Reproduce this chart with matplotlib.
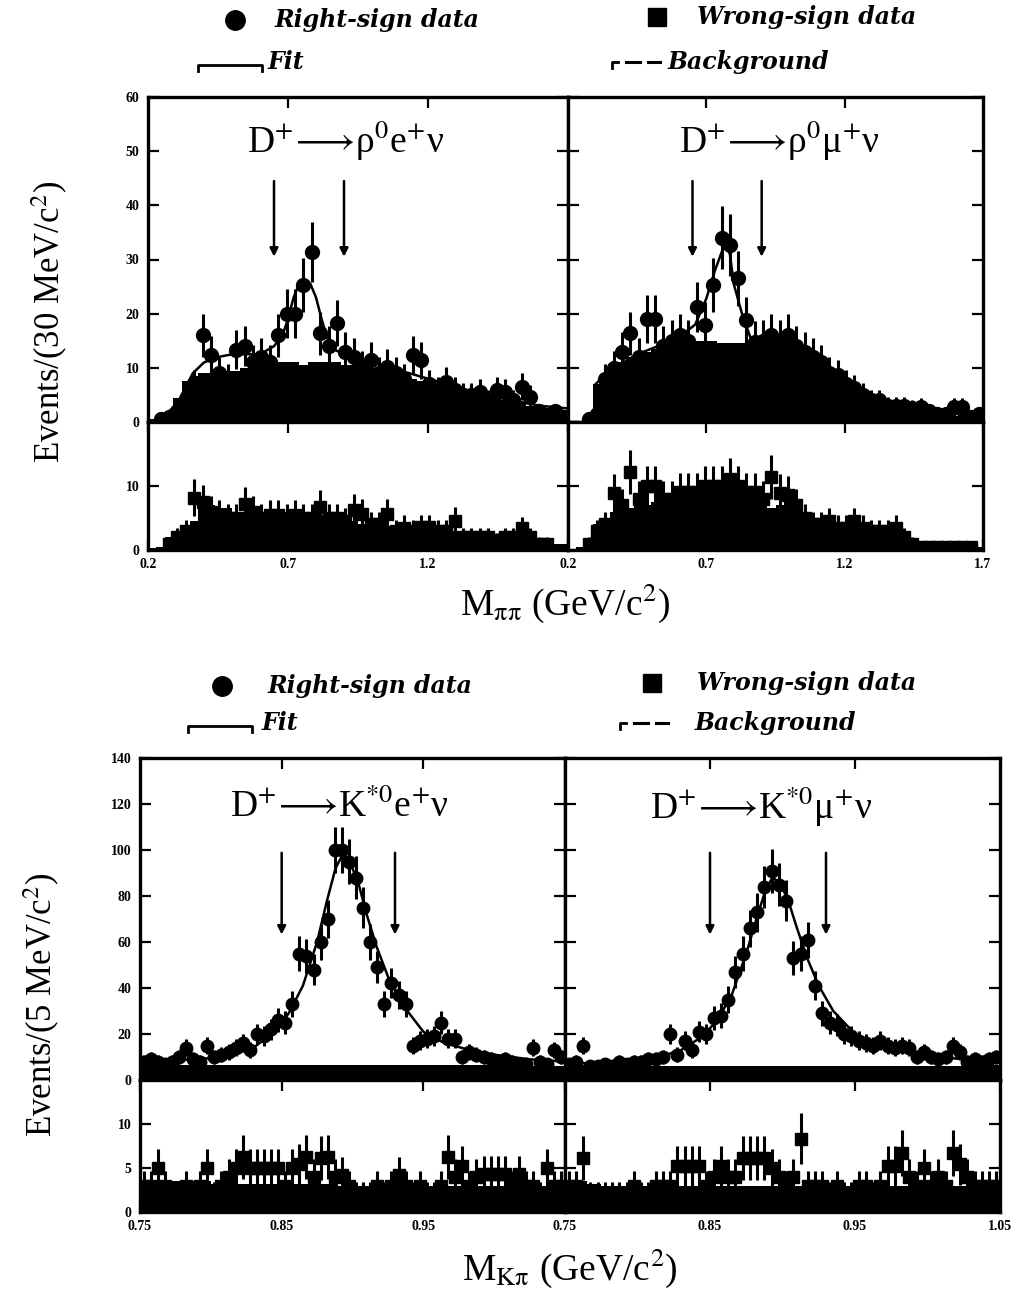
import numpy as np
import matplotlib
matplotlib.use("Agg")
import matplotlib.pyplot as plt
from matplotlib.lines import Line2D

plt.rcParams['font.family'] = ['Liberation Serif', 'DejaVu Serif']
plt.rcParams['mathtext.fontset'] = 'stix'

# ----------------------------------------------------------------- data ---
# rho panels: 30 MeV bins from 0.2 to 1.7 GeV
rho_edges = np.linspace(0.2, 1.7, 51)
rho_x = 0.5 * (rho_edges[:-1] + rho_edges[1:])

rho_e_rs = [0, 0.5, 1, 2, 4, 7, 16, 12.4, 9, 8,
            13.3, 14, 11, 12, 11, 16, 20, 20, 25.3, 31.4,
            16.4, 14, 18.3, 13, 12, 10, 11.4, 9, 10.2, 9,
            8, 12.4, 11.4, 7, 6, 7.4, 6, 5, 5, 5.6,
            4, 5.9, 5.6, 4, 6.5, 4.7, 2, 1, 2, 1]
rho_e_rs_err = [0, 0.7, 1, 1.4, 2, 2.6, 4, 3.5, 3, 2.8,
                3.6, 3.7, 3.3, 3.5, 3.3, 4, 4.5, 4.5, 5, 5.6,
                4, 3.7, 4.3, 3.6, 3.5, 3.2, 3.4, 3, 3.2, 3,
                2.8, 3.5, 3.4, 2.6, 2.4, 2.7, 2.4, 2.2, 2.2, 2.4,
                2, 2.4, 2.4, 2, 2.5, 2.2, 1.4, 1, 1.4, 1]
rho_e_bg = [0.5, 1, 1.5, 4.5, 7.5, 8.5, 9, 9, 9.5, 9.5,
            9.5, 10, 10, 10.5, 11, 11, 11, 11, 10.5, 11,
            11, 11, 11, 10.5, 10.5, 10, 10, 9.5, 9, 9,
            8.5, 8, 7.5, 7, 6.5, 6, 6, 5.5, 5, 5,
            4.5, 4.5, 4, 3.5, 3.5, 3, 2.5, 2.5, 2, 2]
rho_e_fit_x = [0.25, 0.3, 0.33, 0.36, 0.4, 0.45, 0.5, 0.55, 0.6, 0.65,
               0.68, 0.7, 0.72, 0.74, 0.76, 0.78, 0.8, 0.82, 0.84, 0.86,
               0.9, 0.95, 1.0, 1.1, 1.2, 1.3, 1.4, 1.5, 1.6, 1.7]
rho_e_fit_y = [1, 3, 6, 9, 11, 12, 12.5, 12.5, 12.5, 14,
               16, 19, 23, 25.5, 26, 25.5, 23, 19, 15.5, 13.5,
               12.5, 12, 11, 9.5, 8, 6.5, 5, 4, 3, 2.5]
rho_e_ws = [0, 0, 1, 2, 3, 8.2, 7.5, 6, 5.5, 5,
            5, 7.2, 6, 5, 5.5, 5.5, 5, 5.5, 5, 5,
            6.7, 5, 5, 4.5, 6.2, 5.6, 4, 4, 5.6, 3,
            3.5, 3, 3.6, 3.6, 3, 3, 4.6, 2, 2, 2,
            2, 1.5, 2, 2, 3.4, 2, 1, 1, 0, 0]
rho_e_ws_err = [0, 0, 1, 1.4, 1.7, 2.9, 2.7, 2.4, 2.3, 2.2,
                2.2, 2.7, 2.4, 2.2, 2.3, 2.3, 2.2, 2.3, 2.2, 2.2,
                2.6, 2.2, 2.2, 2.1, 2.5, 2.4, 2, 2, 2.4, 1.7,
                1.9, 1.7, 1.9, 1.9, 1.7, 1.7, 2.1, 1.4, 1.4, 1.4,
                1.4, 1.2, 1.4, 1.4, 1.8, 1.4, 1, 1, 0, 0]
rho_e_ws_bg = [0.3, 0.5, 2, 2.5, 3, 4.5, 7.5, 7, 6.5, 6.5,
               6, 6, 6, 6, 6, 6, 6, 6, 6, 5.5,
               5.5, 5, 5, 4.5, 4.5, 4, 4, 4, 3.8, 3.6,
               3.5, 3.5, 3.5, 3.5, 3.5, 3.5, 3, 2.5, 2, 2,
               2, 2, 2, 2.5, 3, 2.5, 1, 1, 1, 1]

rho_mu_rs = [0, 0, 0.5, 1.5, 8, 10, 13, 16.4, 12, 19,
             19, 14, 15, 16, 15, 21.3, 18, 25.3, 34, 32.7,
             26.5, 18.8, 14.8, 15, 16, 15, 16, 14, 13, 12,
             11, 9, 8.6, 7, 6.2, 5, 4, 4, 3, 3,
             3, 2.5, 2.8, 2, 1.5, 1.5, 2.8, 2.8, 1, 1.5]
rho_mu_rs_err = [0, 0, 0.7, 1.2, 2.8, 3.2, 3.6, 4, 3.5, 4.4,
                 4.4, 3.7, 3.9, 4, 3.9, 4.6, 4.2, 5, 5.8, 5.7,
                 5.1, 4.3, 3.8, 3.9, 4, 3.9, 4, 3.7, 3.6, 3.5,
                 3.3, 3, 2.9, 2.6, 2.5, 2.2, 2, 2, 1.7, 1.7,
                 1.7, 1.6, 1.7, 1.4, 1.2, 1.2, 1.7, 1.7, 1, 1.2]
rho_mu_bg = [0, 0, 0.5, 7, 9, 10, 11, 12, 12.5, 13,
             13.5, 14, 14.5, 15, 15, 15, 15, 15, 14.5, 14.5,
             14.5, 14.5, 14.5, 15, 15, 15, 14.5, 14, 13, 12,
             11, 9.5, 8, 7, 5.5, 4.5, 4, 3, 2.5, 2.5,
             2.5, 2, 2, 2, 1.5, 1.5, 1.2, 1.5, 1, 1]
rho_mu_fit_x = [0.3, 0.35, 0.4, 0.45, 0.5, 0.55, 0.6, 0.62, 0.66, 0.7,
                0.73, 0.76, 0.77, 0.785, 0.8, 0.83, 0.86, 0.9, 0.95, 1.0,
                1.05, 1.1, 1.15, 1.2, 1.25, 1.3, 1.4, 1.5, 1.6, 1.7]
rho_mu_fit_y = [7, 9.5, 11, 12.5, 13.5, 14.5, 15.5, 16.4, 18, 22.8,
                27.8, 32, 32.7, 31, 25.3, 19.8, 15.5, 15, 15, 14.8,
                13.5, 11.5, 9.5, 7.5, 5.5, 4, 2.5, 2, 1.5, 1]
rho_mu_ws = [0, 0, 1, 3, 4, 8.9, 7, 12.2, 8, 10,
             10, 8, 8, 9, 9, 9, 10, 10, 10, 11.1,
             10, 9, 9, 8, 11.4, 8.9, 8.6, 7, 5, 4,
             4, 4.5, 3.5, 3.5, 4.5, 3.5, 3, 3, 3, 3.5,
             2, 1, 0.5, 0.5, 0.5, 0.5, 0.5, 0.5, 0.5, 0]
rho_mu_ws_err = [0, 0, 1, 1.7, 2, 3, 2.6, 3.5, 2.8, 3.2,
                 3.2, 2.8, 2.8, 3, 3, 3, 3.2, 3.2, 3.2, 3.3,
                 3.2, 3, 3, 2.8, 3.4, 3, 2.9, 2.6, 2.2, 2,
                 2, 2.1, 1.9, 1.9, 2.1, 1.9, 1.7, 1.7, 1.7, 1.9,
                 1.4, 1, 0.7, 0.7, 0.7, 0.7, 0.7, 0.7, 0.7, 0]
rho_mu_ws_bg = [0, 0.5, 1.5, 4, 5, 6, 6.5, 6.5, 7, 7,
                7.5, 8.5, 8.5, 8.5, 8.5, 8.5, 9, 9.5, 9.5, 9.5,
                9.5, 9.5, 9, 7, 6.5, 7, 7.5, 7, 5.5, 4.5,
                4, 4, 3.5, 3.5, 4, 3.5, 3.5, 3, 3, 2.5,
                2.5, 1.5, 0.8, 0.8, 0.8, 0.8, 0.8, 0.8, 0.8, 0.5]

# K* panels: 5 MeV bins from 0.75 to 1.05 GeV
kst_edges = np.linspace(0.75, 1.05, 61)
kst_x = 0.5 * (kst_edges[:-1] + kst_edges[1:])

kst_e_rs = [8, 9, 8, 7, 8, 10, 14, 9, 8, 15,
            10, 11, 12, 14, 16, 13, 20, 19, 22, 26,
            25, 33, 55, 54, 48, 60, 70, 100, 100, 95,
            88, 75, 60, 49, 33, 42, 37, 33, 15, 17,
            18, 19, 25, 18, 18, 10, 12, 11, 10, 9,
            8, 9, 8, 7, 7, 14, 8, 7, 13, 10]
kst_e_rs_err = [2.8, 3, 2.8, 2.6, 2.8, 3.2, 3.7, 3, 2.8, 3.9,
                3.2, 3.3, 3.5, 3.7, 4, 3.6, 4.5, 4.4, 4.7, 5.1,
                5, 5.7, 7.4, 7.3, 6.9, 7.7, 8.4, 10, 10, 9.7,
                9.4, 8.7, 7.7, 7, 5.7, 6.5, 6.1, 5.7, 3.9, 4.1,
                4.2, 4.4, 5, 4.2, 4.2, 3.2, 3.5, 3.3, 3.2, 3,
                2.8, 3, 2.8, 2.6, 2.6, 3.7, 2.8, 2.6, 3.6, 3.2]
kst_e_bg = [7.5, 7.5, 7, 7, 7, 6.5, 6.5, 6.5, 6.5, 6.5,
            6.5, 6.5, 6.5, 6.5, 6.5, 6.5, 6.5, 6.5, 6.5, 6.5,
            6.5, 6.5, 6.5, 6.5, 6.5, 6.5, 6.5, 6.5, 6.5, 6.5,
            6.5, 6.5, 6.5, 6.5, 6.5, 6.5, 6.5, 6.5, 6.5, 6.5,
            6.5, 6.5, 6.5, 6.5, 6.5, 6.5, 6.5, 6.5, 6.5, 6.5,
            6.5, 6.5, 6.5, 6.5, 6, 6, 6, 6, 6, 6]
kst_fit_x = [0.75, 0.77, 0.79, 0.81, 0.83, 0.845, 0.855, 0.865, 0.875, 0.882,
             0.888, 0.893, 0.898, 0.904, 0.91, 0.917, 0.925, 0.935, 0.95, 0.965,
             0.98, 1.0, 1.025, 1.05]
kst_e_fit_y = [8, 8.5, 9, 10, 14, 21, 29, 41, 60, 78,
               92, 98, 95, 86, 72, 58, 45, 33, 21, 16,
               13.5, 11, 9, 8]
kst_e_ws = [3, 3, 5, 3, 2, 2, 3, 2, 3, 5,
            2, 3, 4, 5, 6.3, 5, 5, 5, 5, 5,
            3, 5, 5.4, 6.3, 4, 6.1, 6.3, 4, 4.2, 3,
            2, 2, 2, 3, 2, 3, 4.2, 3, 2, 3,
            2, 2, 3, 6.3, 4, 5.2, 3, 4, 4.3, 4.3,
            4.3, 4.3, 3, 4.3, 3, 3, 2, 5, 3, 3]
kst_e_ws_err = [1.7, 1.7, 2.2, 1.7, 1.4, 1.4, 1.7, 1.4, 1.7, 2.2,
                1.4, 1.7, 2, 2.2, 2.5, 2.2, 2.2, 2.2, 2.2, 2.2,
                1.7, 2.2, 2.3, 2.5, 2, 2.5, 2.5, 2, 2, 1.7,
                1.4, 1.4, 1.4, 1.7, 1.4, 1.7, 2, 1.7, 1.4, 1.7,
                1.4, 1.4, 1.7, 2.5, 2, 2.3, 1.7, 2, 2.1, 2.1,
                2.1, 2.1, 1.7, 2.1, 1.7, 1.7, 1.4, 2.2, 1.7, 1.7]
kst_e_ws_bg = [3.5, 3.5, 3.5, 3.5, 3.5, 3.5, 3.5, 3.5, 3.5, 3.5,
               3.2, 3.2, 3.2, 3.2, 3.2, 3.2, 3.2, 3.2, 3.2, 3.2,
               3.2, 3.2, 3.2, 3.2, 3.2, 3.2, 3.2, 3.2, 3, 3,
               3, 3, 3, 3, 3, 3, 3, 3, 3, 3,
               3, 3, 3, 3, 3, 3, 3, 3, 3, 3,
               3, 3, 3, 3, 3, 3, 3, 3, 3, 3]

kst_mu_rs = [7, 8, 15, 6, 6, 7, 6, 8, 7, 8,
             8, 9, 9, 10, 20, 11, 17, 13, 21, 20,
             27, 28, 35, 47, 55, 66, 73, 84, 91, 85,
             78, 53, 55, 61, 41, 29, 25, 24, 20, 19,
             17, 16, 15, 17, 15, 14, 15, 14, 10, 12,
             10, 9, 10, 15, 12, 8, 9, 8, 9, 10]
kst_mu_rs_err = [2.6, 2.8, 3.9, 2.4, 2.4, 2.6, 2.4, 2.8, 2.6, 2.8,
                 2.8, 3, 3, 3.2, 4.5, 3.3, 4.1, 3.6, 4.6, 4.5,
                 5.2, 5.3, 5.9, 6.9, 7.4, 8.1, 8.5, 9.2, 9.5, 9.2,
                 8.8, 7.3, 7.4, 7.8, 6.4, 5.4, 5, 4.9, 4.5, 4.4,
                 4.1, 4, 3.9, 4.1, 3.9, 3.7, 3.9, 3.7, 3.2, 3.5,
                 3.2, 3, 3.2, 3.9, 3.5, 2.8, 3, 2.8, 3, 3.2]
kst_mu_bg = [6.5, 6.5, 6.5, 6, 6, 6, 6, 6, 6, 6,
             6, 6, 6, 6, 6, 6, 6, 6, 6, 6,
             6, 6, 6, 6, 6, 6, 6, 6, 6, 6,
             6, 6, 6, 6, 6, 6, 6, 6, 6, 6,
             6, 6, 6, 6, 6, 6, 6, 6, 6, 6,
             6, 6, 6, 6, 6, 6, 6, 6, 6.5, 6.5]
kst_mu_fit_y = [7, 7.5, 8, 9, 13, 19, 26, 37, 55, 70,
                82, 88, 86, 78, 66, 53, 41, 30, 20, 15,
                12.5, 10.5, 9, 8]
kst_mu_ws = [3, 3, 6.1, 2, 2, 2, 2, 2, 2, 3,
             2, 2, 3, 3, 3, 5.2, 5.2, 5.2, 5.2, 3,
             4, 5.2, 4, 4, 6.1, 6.1, 6.1, 6.1, 5, 4,
             3, 4, 8.3, 3, 3, 3, 2, 3, 2, 2,
             3, 3, 2, 3, 5.2, 5.2, 6.7, 4, 3, 5,
             3, 4, 3, 6.7, 5.4, 4, 3, 3, 3, 3]
kst_mu_ws_err = [1.7, 1.7, 2.5, 1.4, 1.4, 1.4, 1.4, 1.4, 1.4, 1.7,
                 1.4, 1.4, 1.7, 1.7, 1.7, 2.3, 2.3, 2.3, 2.3, 1.7,
                 2, 2.3, 2, 2, 2.5, 2.5, 2.5, 2.5, 2.2, 2,
                 1.7, 2, 2.9, 1.7, 1.7, 1.7, 1.4, 1.7, 1.4, 1.4,
                 1.7, 1.7, 1.4, 1.7, 2.3, 2.3, 2.6, 2, 1.7, 2.2,
                 1.7, 2, 1.7, 2.6, 2.3, 2, 1.7, 1.7, 1.7, 1.7]
kst_mu_ws_bg = [3.5, 3.5, 3.5, 3.2, 3.2, 3, 3, 3, 3, 3,
                3, 3, 3, 3, 3, 3, 3, 3, 3, 3,
                3, 3, 3, 3, 3, 3, 3, 3, 3, 3,
                3, 3, 3, 3, 3, 3, 3, 3, 3, 3,
                3, 3, 3, 3, 3, 3, 3, 3, 3, 3,
                3, 3, 3, 3, 3, 3, 3, 3, 3, 3]

rho_cuts = [0.65, 0.90]
kst_cuts = [0.85, 0.93]

ARROW = r'$\!\longrightarrow\!$'
titles = ['D$^{+}$' + ARROW + 'ρ$^{0}$e$^{+}$ν',
          'D$^{+}$' + ARROW + 'ρ$^{0}$μ$^{+}$ν',
          'D$^{+}$' + ARROW + 'K$^{*0}$e$^{+}$ν',
          'D$^{+}$' + ARROW + 'K$^{*0}$μ$^{+}$ν']

# --------------------------------------------------------------- layout ---
W, H = 1016, 1291
fig = plt.figure(figsize=(W / 100, H / 100), dpi=100)


def rect(x0, y0, x1, y1):
    return [x0 / W, 1 - y1 / H, (x1 - x0) / W, (y1 - y0) / H]


def style(ax, ylabels=True, xlabels=False):
    for s in ax.spines.values():
        s.set_linewidth(2.4)
    ax.tick_params(direction='in', top=True, right=True, length=8, width=1.6,
                   labelsize=10, pad=6)
    if not ylabels:
        ax.set_yticklabels([])
    if not xlabels:
        ax.set_xticklabels([])
    for lab in ax.get_xticklabels() + ax.get_yticklabels():
        lab.set_fontweight('bold')


def hist_panel(ax, x, edges, vals, errs, bg, marker, ms, fit_x=None, fit_y=None):
    ax.stairs(bg, edges, fill=True, color='k', zorder=1)
    if fit_x is not None:
        ax.plot(fit_x, fit_y, color='k', lw=1.8, zorder=2)
    v = np.asarray(vals, float)
    e = np.asarray(errs, float)
    m = v > 0
    hw = 0.5 * (edges[1] - edges[0])
    ax.errorbar(x[m], v[m], yerr=e[m], xerr=hw, fmt=marker, ms=ms, mfc='k',
                mec='k', ecolor='k', elinewidth=2.2, capsize=0, zorder=3)


def arrows(ax, cuts, ytop, ytip):
    for c in cuts:
        ax.annotate('', xy=(c, ytip), xytext=(c, ytop),
                    arrowprops=dict(arrowstyle='-|>', color='k', lw=1.8,
                                    mutation_scale=12), zorder=4)


# ---- top block (rho) ----
rho_sets = [
    (rho_e_rs, rho_e_rs_err, rho_e_bg, rho_e_fit_x, rho_e_fit_y,
     rho_e_ws, rho_e_ws_err, rho_e_ws_bg),
    (rho_mu_rs, rho_mu_rs_err, rho_mu_bg, rho_mu_fit_x, rho_mu_fit_y,
     rho_mu_ws, rho_mu_ws_err, rho_mu_ws_bg),
]
top_x = [(148, 568), (568, 983)]
for i, (rs, rse, bg, fx, fy, ws, wse, wsbg) in enumerate(rho_sets):
    x0, x1 = top_x[i]
    au = fig.add_axes(rect(x0, 97, x1, 422))
    al = fig.add_axes(rect(x0, 422, x1, 550))
    hist_panel(au, rho_x, rho_edges, rs, rse, bg, 'o', 10, fx, fy)
    hist_panel(al, rho_x, rho_edges, ws, wse, wsbg, 's', 9)
    arrows(au, rho_cuts, 45, 30)
    for a in (au, al):
        a.set_xlim(0.2, 1.7)
    au.set_ylim(0, 60)
    al.set_ylim(0, 20)
    au.set_yticks([0, 10, 20, 30, 40, 50, 60])
    al.set_yticks([0, 10, 20])
    au.set_xticks([0.7, 1.2])
    al.set_xticks([0.2, 0.7, 1.2] if i == 0 else [0.2, 0.7, 1.2, 1.7])
    style(au, ylabels=(i == 0))
    style(al, ylabels=(i == 0), xlabels=True)
    if i == 0:
        al.set_yticklabels(['0', '10', ''])
        for lab in al.get_yticklabels():
            lab.set_fontweight('bold')
    au.text(0.47 if i == 0 else 0.51, 0.865, titles[i], transform=au.transAxes,
            ha='center', va='center', fontsize=27)

# ---- bottom block (K*) ----
kst_sets = [
    (kst_e_rs, kst_e_rs_err, kst_e_bg, kst_e_fit_y,
     kst_e_ws, kst_e_ws_err, kst_e_ws_bg),
    (kst_mu_rs, kst_mu_rs_err, kst_mu_bg, kst_mu_fit_y,
     kst_mu_ws, kst_mu_ws_err, kst_mu_ws_bg),
]
bot_x = [(140, 565), (565, 1000)]
for i, (rs, rse, bg, fy, ws, wse, wsbg) in enumerate(kst_sets):
    x0, x1 = bot_x[i]
    au = fig.add_axes(rect(x0, 758, x1, 1080))
    al = fig.add_axes(rect(x0, 1080, x1, 1212))
    hist_panel(au, kst_x, kst_edges, rs, rse, bg, 'o', 9, kst_fit_x, fy)
    hist_panel(al, kst_x, kst_edges, ws, wse, wsbg, 's', 8.5)
    arrows(au, kst_cuts, 100, 62)
    for a in (au, al):
        a.set_xlim(0.75, 1.05)
    au.set_ylim(0, 140)
    al.set_ylim(0, 15)
    au.set_yticks([0, 20, 40, 60, 80, 100, 120, 140])
    al.set_yticks([0, 5, 10, 15])
    au.set_xticks([0.85, 0.95])
    al.set_xticks([0.75, 0.85, 0.95] if i == 0 else [0.75, 0.85, 0.95, 1.05])
    style(au, ylabels=(i == 0))
    style(al, ylabels=(i == 0), xlabels=True)
    if i == 0:
        al.set_yticklabels(['0', '5', '10', ''])
        for lab in al.get_yticklabels():
            lab.set_fontweight('bold')
    au.text(0.47 if i == 0 else 0.45, 0.85, titles[2 + i], transform=au.transAxes,
            ha='center', va='center', fontsize=27)

# ---- axis titles ----
fig.text(50 / W, 1 - 322 / H, 'Events/(30 MeV/c$^{2}$)', rotation=90,
         ha='center', va='center', fontsize=25)
fig.text(42 / W, 1 - 1005 / H, 'Events/(5 MeV/c$^{2}$)', rotation=90,
         ha='center', va='center', fontsize=25)
fig.text(565 / W, 1 - 603 / H, r'M$_{\mathrm{\pi\pi}}$ (GeV/c$^{2}$)',
         ha='center', va='center', fontsize=27)
fig.text(570 / W, 1 - 1268 / H, r'M$_{\mathrm{K\pi}}$ (GeV/c$^{2}$)',
         ha='center', va='center', fontsize=27)

# ---- legends ----
leg_font = dict(family='DejaVu Serif', weight='bold', style='italic',
                fontsize=17, ha='left', va='center')


def fig_line(xs, ys, **kw):
    fig.add_artist(Line2D([x / W for x in xs], [1 - y / H for y in ys],
                          transform=fig.transFigure, color='k', **kw))


def legend_block(y_top, y_bot, dx_circle, x_rs, x_sq, x_ws,
                 fit_x0, fit_x1, x_fit, bg_x0, x_bg):
    fig_line([dx_circle], [y_top], marker='o', ms=14, lw=0)
    fig.text(x_rs / W, 1 - y_top / H, 'Right-sign data', **leg_font)
    fig_line([x_sq], [y_top - 3], marker='s', ms=13, lw=0)
    fig.text(x_ws / W, 1 - (y_top - 3) / H, 'Wrong-sign data', **leg_font)
    fig_line([fit_x0, fit_x0, fit_x1, fit_x1],
             [y_bot + 9, y_bot + 3, y_bot + 3, y_bot + 9], lw=2)
    fig.text(x_fit / W, 1 - y_bot / H, 'Fit', **leg_font)
    fig_line([bg_x0, bg_x0, bg_x0 + 6], [y_bot + 6, y_bot, y_bot], lw=2)
    fig_line([bg_x0 + 14, bg_x0 + 28], [y_bot, y_bot], lw=2.2)
    fig_line([bg_x0 + 36, bg_x0 + 48], [y_bot, y_bot], lw=2.2)
    fig.text(x_bg / W, 1 - y_bot / H, 'Background', **leg_font)


legend_block(20, 62, 235, 275, 657, 697, 198, 262, 268, 612, 668)
legend_block(686, 723, 222, 268, 652, 697, 188, 252, 262, 620, 695)

fig.savefig('out.png', dpi=100, facecolor='white')
